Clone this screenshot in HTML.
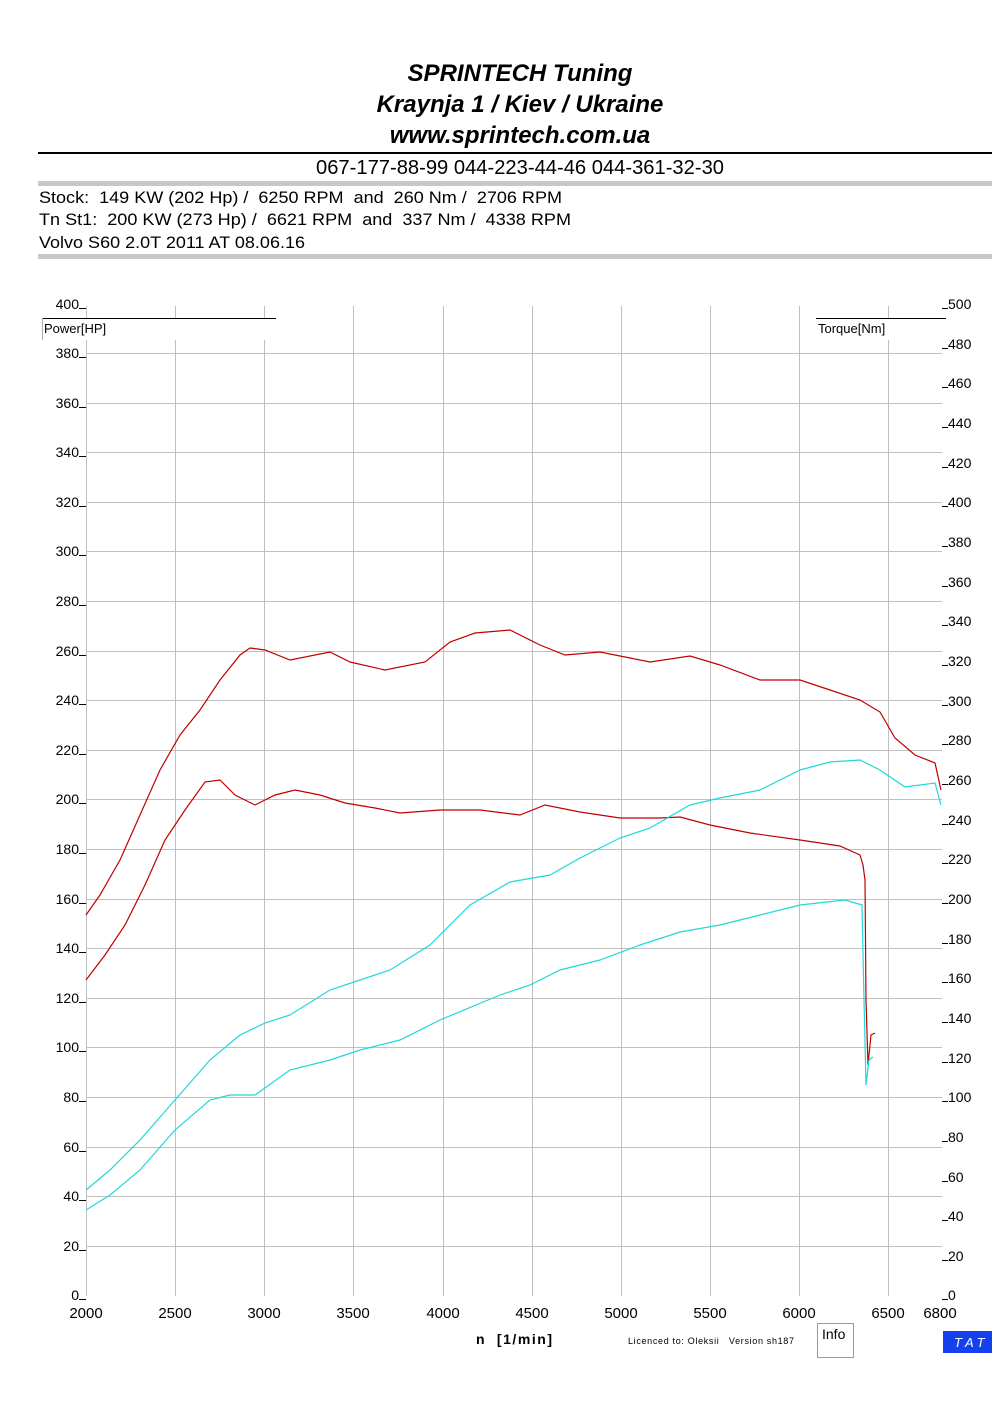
<!DOCTYPE html><html><head><style>body{margin:0;background:#fff}svg{display:block}text{white-space:pre}</style></head><body>
<svg width="992" height="1403" xmlns="http://www.w3.org/2000/svg" font-family="Liberation Sans, sans-serif" xml:space="preserve">
<g font-style="italic" font-weight="bold" font-size="24" text-anchor="middle" fill="#000">
<text x="520" y="81">SPRINTECH Tuning</text>
<text x="520" y="112">Kraynja 1 / Kiev / Ukraine</text>
<text x="520" y="143">www.sprintech.com.ua</text>
</g>
<rect x="38" y="152" width="954" height="2" fill="#000"/>
<text x="520" y="174" font-size="20" text-anchor="middle" textLength="408" lengthAdjust="spacingAndGlyphs">067-177-88-99 044-223-44-46 044-361-32-30</text>
<rect x="38" y="181" width="954" height="5" fill="#c8c8c8"/>
<g font-size="17">
<text x="39" y="203" textLength="523" lengthAdjust="spacingAndGlyphs">Stock:  149 KW (202 Hp) /  6250 RPM  and  260 Nm /  2706 RPM</text>
<text x="39" y="225" textLength="532" lengthAdjust="spacingAndGlyphs">Tn St1:  200 KW (273 Hp) /  6621 RPM  and  337 Nm /  4338 RPM</text>
<text x="39" y="248" textLength="266" lengthAdjust="spacingAndGlyphs">Volvo S60 2.0T 2011 AT 08.06.16</text>
</g>
<rect x="38" y="254" width="954" height="5" fill="#c8c8c8"/>
<g stroke="#c0c0c0" stroke-width="1">
<line x1="175.5" y1="306" x2="175.5" y2="1296"/><line x1="264.5" y1="306" x2="264.5" y2="1296"/>
<line x1="353.5" y1="306" x2="353.5" y2="1296"/><line x1="443.5" y1="306" x2="443.5" y2="1296"/>
<line x1="532.5" y1="306" x2="532.5" y2="1296"/><line x1="621.5" y1="306" x2="621.5" y2="1296"/>
<line x1="710.5" y1="306" x2="710.5" y2="1296"/><line x1="799.5" y1="306" x2="799.5" y2="1296"/>
<line x1="888.5" y1="306" x2="888.5" y2="1296"/><line x1="86.5" y1="306" x2="86.5" y2="1296"/>
</g>
<g stroke="#c0c0c0">
<line x1="86" y1="353.5" x2="942" y2="353.5"/><line x1="86" y1="403.5" x2="942" y2="403.5"/><line x1="86" y1="452.5" x2="942" y2="452.5"/><line x1="86" y1="502.5" x2="942" y2="502.5"/><line x1="86" y1="551.5" x2="942" y2="551.5"/><line x1="86" y1="601.5" x2="942" y2="601.5"/><line x1="86" y1="651.5" x2="942" y2="651.5"/><line x1="86" y1="700.5" x2="942" y2="700.5"/><line x1="86" y1="750.5" x2="942" y2="750.5"/><line x1="86" y1="799.5" x2="942" y2="799.5"/><line x1="86" y1="849.5" x2="942" y2="849.5"/><line x1="86" y1="899.5" x2="942" y2="899.5"/><line x1="86" y1="948.5" x2="942" y2="948.5"/><line x1="86" y1="998.5" x2="942" y2="998.5"/><line x1="86" y1="1047.5" x2="942" y2="1047.5"/><line x1="86" y1="1097.5" x2="942" y2="1097.5"/><line x1="86" y1="1147.5" x2="942" y2="1147.5"/><line x1="86" y1="1196.5" x2="942" y2="1196.5"/><line x1="86" y1="1246.5" x2="942" y2="1246.5"/>
</g>
<rect x="42" y="318" width="234" height="22" fill="#fff"/>
<line x1="42" y1="318.5" x2="276" y2="318.5" stroke="#000"/>
<line x1="42.5" y1="318" x2="42.5" y2="340" stroke="#aaa"/>
<text x="44" y="333" font-size="13">Power[HP]</text>
<rect x="816" y="318" width="130" height="22" fill="#fff"/>
<line x1="816" y1="318.5" x2="946" y2="318.5" stroke="#000"/>
<text x="818" y="333" font-size="13">Torque[Nm]</text>
<g font-size="14" text-anchor="end">
<text x="79" y="309">400</text><text x="79" y="358">380</text><text x="79" y="408">360</text><text x="79" y="457">340</text><text x="79" y="507">320</text><text x="79" y="556">300</text><text x="79" y="606">280</text><text x="79" y="656">260</text><text x="79" y="705">240</text><text x="79" y="755">220</text><text x="79" y="804">200</text><text x="79" y="854">180</text><text x="79" y="904">160</text><text x="79" y="953">140</text><text x="79" y="1003">120</text><text x="79" y="1052">100</text><text x="79" y="1102">80</text><text x="79" y="1152">60</text><text x="79" y="1201">40</text><text x="79" y="1251">20</text><text x="79" y="1300">0</text>
</g>
<g stroke="#000"><line x1="79" y1="308.5" x2="86" y2="308.5"/><line x1="79" y1="357.5" x2="86" y2="357.5"/><line x1="79" y1="407.5" x2="86" y2="407.5"/><line x1="79" y1="456.5" x2="86" y2="456.5"/><line x1="79" y1="506.5" x2="86" y2="506.5"/><line x1="79" y1="555.5" x2="86" y2="555.5"/><line x1="79" y1="605.5" x2="86" y2="605.5"/><line x1="79" y1="655.5" x2="86" y2="655.5"/><line x1="79" y1="704.5" x2="86" y2="704.5"/><line x1="79" y1="754.5" x2="86" y2="754.5"/><line x1="79" y1="803.5" x2="86" y2="803.5"/><line x1="79" y1="853.5" x2="86" y2="853.5"/><line x1="79" y1="903.5" x2="86" y2="903.5"/><line x1="79" y1="952.5" x2="86" y2="952.5"/><line x1="79" y1="1002.5" x2="86" y2="1002.5"/><line x1="79" y1="1051.5" x2="86" y2="1051.5"/><line x1="79" y1="1101.5" x2="86" y2="1101.5"/><line x1="79" y1="1151.5" x2="86" y2="1151.5"/><line x1="79" y1="1200.5" x2="86" y2="1200.5"/><line x1="79" y1="1250.5" x2="86" y2="1250.5"/><line x1="79" y1="1299.5" x2="86" y2="1299.5"/></g>
<g font-size="14">
<text x="948" y="309">500</text><text x="948" y="349">480</text><text x="948" y="388">460</text><text x="948" y="428">440</text><text x="948" y="468">420</text><text x="948" y="507">400</text><text x="948" y="547">380</text><text x="948" y="587">360</text><text x="948" y="626">340</text><text x="948" y="666">320</text><text x="948" y="706">300</text><text x="948" y="745">280</text><text x="948" y="785">260</text><text x="948" y="825">240</text><text x="948" y="864">220</text><text x="948" y="904">200</text><text x="948" y="944">180</text><text x="948" y="983">160</text><text x="948" y="1023">140</text><text x="948" y="1063">120</text><text x="948" y="1102">100</text><text x="948" y="1142">80</text><text x="948" y="1182">60</text><text x="948" y="1221">40</text><text x="948" y="1261">20</text><text x="948" y="1300">0</text>
</g>
<g stroke="#000"><line x1="942" y1="308.5" x2="948" y2="308.5"/><line x1="942" y1="348.5" x2="948" y2="348.5"/><line x1="942" y1="387.5" x2="948" y2="387.5"/><line x1="942" y1="427.5" x2="948" y2="427.5"/><line x1="942" y1="467.5" x2="948" y2="467.5"/><line x1="942" y1="506.5" x2="948" y2="506.5"/><line x1="942" y1="546.5" x2="948" y2="546.5"/><line x1="942" y1="586.5" x2="948" y2="586.5"/><line x1="942" y1="625.5" x2="948" y2="625.5"/><line x1="942" y1="665.5" x2="948" y2="665.5"/><line x1="942" y1="705.5" x2="948" y2="705.5"/><line x1="942" y1="744.5" x2="948" y2="744.5"/><line x1="942" y1="784.5" x2="948" y2="784.5"/><line x1="942" y1="824.5" x2="948" y2="824.5"/><line x1="942" y1="863.5" x2="948" y2="863.5"/><line x1="942" y1="903.5" x2="948" y2="903.5"/><line x1="942" y1="943.5" x2="948" y2="943.5"/><line x1="942" y1="982.5" x2="948" y2="982.5"/><line x1="942" y1="1022.5" x2="948" y2="1022.5"/><line x1="942" y1="1062.5" x2="948" y2="1062.5"/><line x1="942" y1="1101.5" x2="948" y2="1101.5"/><line x1="942" y1="1141.5" x2="948" y2="1141.5"/><line x1="942" y1="1181.5" x2="948" y2="1181.5"/><line x1="942" y1="1220.5" x2="948" y2="1220.5"/><line x1="942" y1="1260.5" x2="948" y2="1260.5"/><line x1="942" y1="1299.5" x2="948" y2="1299.5"/></g>
<g font-size="15" text-anchor="middle">
<text x="86" y="1318">2000</text><text x="175" y="1318">2500</text><text x="264" y="1318">3000</text><text x="353" y="1318">3500</text><text x="443" y="1318">4000</text><text x="532" y="1318">4500</text><text x="621" y="1318">5000</text><text x="710" y="1318">5500</text><text x="799" y="1318">6000</text><text x="888" y="1318">6500</text><text x="940" y="1318">6800</text>
</g>
<text x="476" y="1344" font-size="14" font-weight="bold" textLength="76" lengthAdjust="spacing">n  [1/min]</text>
<text x="628" y="1344" font-size="9" textLength="166" lengthAdjust="spacing">Licenced to: Oleksii   Version sh187</text>
<rect x="817.5" y="1323.5" width="36" height="34" fill="#fff" stroke="#999"/>
<text x="822" y="1339" font-size="14">Info</text>
<rect x="943" y="1331" width="49" height="22" fill="#1440f0"/>
<text x="954" y="1347" font-size="13" font-style="italic" fill="#fff" letter-spacing="4">TAT</text>
<g fill="none" stroke-width="1.2">
<polyline stroke="#c00000" points="86,915 100,895 120,860 140,815 160,770 180,735 200,710 220,680 240,655 250,648 265,650 290,660 330,652 350,662 385,670 425,662 450,642 475,633 510,630 540,645 565,655 600,652 630,658 650,662 690,656 720,665 760,680 800,680 830,690 860,700 880,712 895,738 915,755 935,763 941,790"/>
<polyline stroke="#c00000" points="86,980 105,955 125,925 145,885 165,840 185,810 205,782 220,780 235,795 255,805 275,795 295,790 320,795 345,803 375,808 400,813 440,810 480,810 520,815 545,805 580,812 620,818 660,818 680,817 710,825 750,833 800,840 840,846 860,855 863,865 865,880 866,1000 868,1065 871,1035 875,1033"/>
<polyline stroke="#20d8d8" points="86,1190 110,1170 140,1140 175,1100 210,1060 240,1035 265,1023 290,1015 330,990 360,980 390,970 430,945 470,905 510,882 550,875 580,858 620,838 650,828 690,805 720,798 760,790 800,770 830,762 860,760 880,770 905,787 935,783 941,805"/>
<polyline stroke="#20d8d8" points="86,1210 110,1195 140,1170 175,1130 210,1100 230,1095 255,1095 290,1070 330,1060 360,1050 400,1040 440,1020 500,995 530,985 560,970 600,960 640,945 680,932 720,925 760,915 800,905 845,900 862,905 864,1000 866,1085 869,1060 873,1057"/>
</g>
</svg></body></html>
